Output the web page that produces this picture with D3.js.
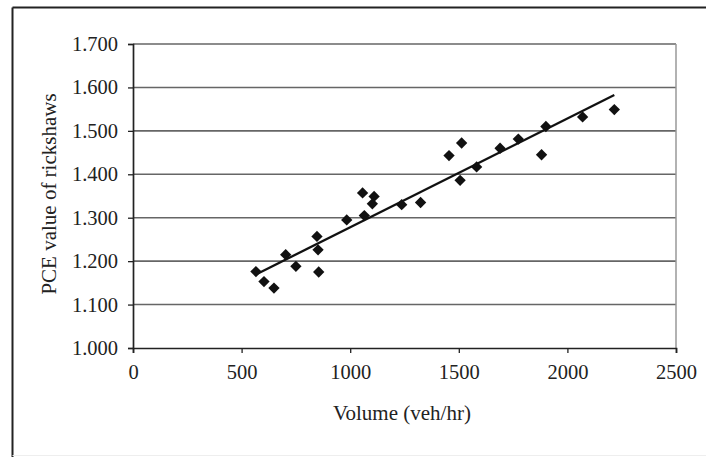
<!DOCTYPE html>
<html>
<head>
<meta charset="utf-8">
<script src="https://cdn.jsdelivr.net/npm/d3@7"></script>
<style>
  body { margin: 0; background: #fff; }
  svg { display: block; }
  text { font-family: "Liberation Serif", "Times New Roman", serif; fill: #222; }
</style>
</head>
<body>
<svg width="706" height="457"></svg>
<script>
let width = 706,
    height = 457;

let volume = [566, 603, 649, 703, 750, 847, 852, 855, 984, 1057, 1065, 1102, 1110,
              1237, 1324, 1455, 1513, 1506, 1582, 1690, 1774, 1881, 1901, 2070, 2216];
let pce = [1.176, 1.153, 1.138, 1.215, 1.188, 1.257, 1.226, 1.175, 1.295, 1.357, 1.305, 1.332, 1.349,
           1.330, 1.335, 1.443, 1.472, 1.386, 1.417, 1.460, 1.481, 1.445, 1.510, 1.532, 1.549];

let xTicks = [0, 500, 1000, 1500, 2000, 2500],
    yTicks = [1.0, 1.1, 1.2, 1.3, 1.4, 1.5, 1.6, 1.7];

let margin = {left: 133, right: 30, top: 44, bottom: 109};

let svg = d3.select("svg");

let x = d3.scaleLinear().domain([0, 2500]).range([margin.left, width - margin.right]);
let y = d3.scaleLinear().domain([1.0, 1.7]).range([height - margin.bottom, margin.top]);

// outer frame
svg.append("line")
    .attr("x1", 12.5).attr("x2", width).attr("y1", 7.5).attr("y2", 7.5)
    .attr("stroke", "#222").attr("stroke-width", 2);
svg.append("line")
    .attr("x1", 12.5).attr("x2", 12.5).attr("y1", 7.5).attr("y2", height)
    .attr("stroke", "#222").attr("stroke-width", 2);
svg.append("line")
    .attr("x1", 12.5).attr("x2", width).attr("y1", 455.5).attr("y2", 455.5)
    .attr("stroke", "#eee").attr("stroke-width", 1);

// grid
svg.append("g")
    .selectAll("line")
    .data(yTicks.slice(1))
    .join("line")
    .attr("x1", x(0)).attr("x2", x(2500))
    .attr("y1", d => y(d)).attr("y2", d => y(d))
    .attr("stroke", "#666").attr("stroke-width", 1.6);

svg.append("line")
    .attr("x1", x(2500)).attr("x2", x(2500))
    .attr("y1", y(1.7)).attr("y2", y(1.0))
    .attr("stroke", "#999").attr("stroke-width", 1.5);

// axes
let xAxis = svg.append("g")
    .attr("transform", `translate(0,${y(1.0)})`)
    .call(d3.axisBottom(x).tickValues(xTicks).tickSize(5).tickPadding(11).tickFormat(d3.format("d")));
let yAxis = svg.append("g")
    .attr("transform", `translate(${x(0)},0)`)
    .call(d3.axisLeft(y).tickValues(yTicks).tickSize(5).tickPadding(10).tickFormat(d3.format(".3f")));

[xAxis, yAxis].forEach(a => {
    a.select(".domain").attr("stroke", "#222").attr("stroke-width", 1.7);
    a.selectAll(".tick line").attr("stroke", "#222").attr("stroke-width", 1.3);
    a.selectAll(".tick text").attr("font-size", 20.5).attr("font-family", "Liberation Serif").attr("fill", "#2a2a2a");
});

// trend line (least squares through the points)
let mx = d3.mean(volume), my = d3.mean(pce);
let slope = d3.sum(volume, (v, i) => (v - mx) * (pce[i] - my)) / d3.sum(volume, v => (v - mx) * (v - mx));
let intercept = my - slope * mx;
let ends = d3.extent(volume);

svg.append("line")
    .attr("x1", x(ends[0])).attr("y1", y(intercept + slope * ends[0]))
    .attr("x2", x(ends[1])).attr("y2", y(intercept + slope * ends[1]))
    .attr("stroke", "#111").attr("stroke-width", 2.3);

// diamonds
let diamond = d3.symbol().type(d3.symbolSquare).size(64);
svg.append("g")
    .selectAll("path")
    .data(volume.map((v, i) => ({v: v, p: pce[i]})))
    .join("path")
    .attr("d", diamond)
    .attr("transform", d => `translate(${x(d.v)},${y(d.p)}) rotate(45)`)
    .attr("fill", "#111");

// axis titles
svg.append("text")
    .attr("x", 402).attr("y", 420)
    .attr("text-anchor", "middle")
    .attr("font-size", 21)
    .attr("fill", "#2a2a2a")
    .text("Volume (veh/hr)");

svg.append("text")
    .attr("transform", "translate(56,194) rotate(-90)")
    .attr("text-anchor", "middle")
    .attr("font-size", 21)
    .attr("fill", "#2a2a2a")
    .text("PCE value of rickshaws");
</script>
</body>
</html>
